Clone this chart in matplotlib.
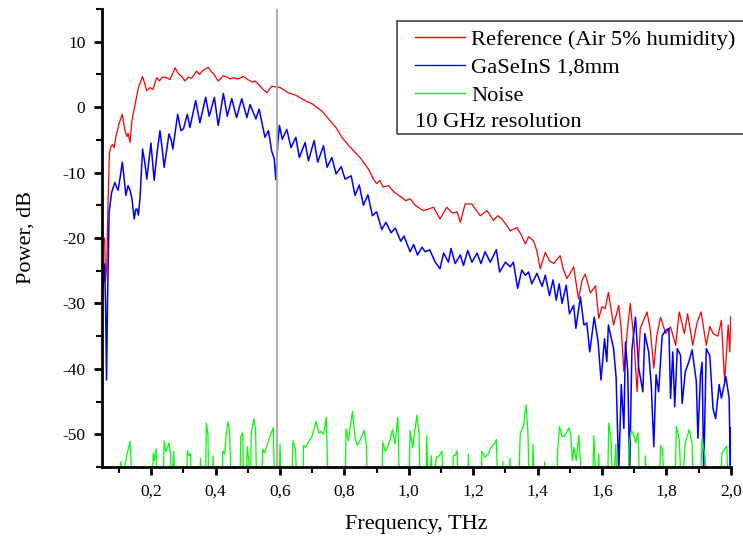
import matplotlib
matplotlib.use("Agg")
import matplotlib.pyplot as plt
from matplotlib.lines import Line2D
from matplotlib.patches import Rectangle
from matplotlib.ticker import MultipleLocator, FuncFormatter

plt.rcParams['font.family'] = ['Liberation Serif', 'DejaVu Serif']
plt.rcParams['axes.unicode_minus'] = False

# Reference (air, 5% humidity) spectrum
ref_thz = [0.050, 0.055, 0.058, 0.062, 0.066, 0.070, 0.075, 0.080, 0.085, 0.090,
           0.100, 0.110, 0.118, 0.124, 0.128, 0.134, 0.140, 0.149, 0.160, 0.173,
           0.180, 0.186, 0.196, 0.205, 0.217, 0.225, 0.235, 0.248, 0.258, 0.265,
           0.274, 0.283, 0.292, 0.305, 0.315, 0.325, 0.341, 0.350, 0.360, 0.377,
           0.385, 0.395, 0.408, 0.424, 0.435, 0.445, 0.455, 0.470, 0.486, 0.500,
           0.515, 0.522, 0.533, 0.545, 0.559, 0.574, 0.600, 0.626, 0.650, 0.678,
           0.700, 0.730, 0.756, 0.775, 0.792, 0.812, 0.833, 0.850, 0.875, 0.890,
           0.900, 0.910, 0.920, 0.937, 0.955, 0.978, 0.990, 1.004, 1.020, 1.045,
           1.060, 1.077, 1.097, 1.118, 1.135, 1.150, 1.160, 1.175, 1.196, 1.210,
           1.222, 1.243, 1.263, 1.276, 1.289, 1.303, 1.315, 1.336, 1.350, 1.362,
           1.372, 1.387, 1.398, 1.408, 1.424, 1.437, 1.450, 1.470, 1.480, 1.491,
           1.500, 1.512, 1.527, 1.538, 1.548, 1.564, 1.580, 1.590, 1.600, 1.610,
           1.620, 1.636, 1.652, 1.660, 1.668, 1.678, 1.688, 1.699, 1.709, 1.719,
           1.730, 1.740, 1.750, 1.761, 1.770, 1.782, 1.798, 1.813, 1.829, 1.840,
           1.856, 1.866, 1.882, 1.895, 1.908, 1.924, 1.935, 1.945, 1.960, 1.971,
           1.981, 1.992, 1.997, 2.000]
ref_db = [-21.0, -20.0, -26.5, -24.0, -14.0, -7.0, -6.0, -5.7, -6.2, -4.5,
          -2.5, -1.1, -3.5, -4.5, -4.0, -5.4, -2.0, 0.2, 3.0, 4.7,
          3.5, 2.5, 3.0, 2.7, 4.5, 4.0, 4.6, 4.5, 4.2, 5.0,
          6.0, 5.2, 4.8, 4.0, 4.6, 4.4, 5.5, 5.0, 5.6, 6.1,
          5.5, 5.0, 4.0, 4.8, 4.6, 4.3, 4.5, 4.3, 4.7, 4.2,
          3.8, 4.0, 3.5, 2.8, 2.2, 3.2, 3.0, 2.2, 1.8, 1.0,
          0.5, -0.6, -2.1, -3.2, -4.6, -5.8, -6.9, -7.8, -9.5, -11.0,
          -11.7, -11.2, -12.2, -12.0, -13.0, -13.8, -14.3, -14.0, -15.0, -15.8,
          -15.6, -15.3, -17.1, -15.3, -16.2, -16.0, -17.6, -14.8, -14.8, -15.8,
          -16.6, -15.8, -17.3, -16.6, -17.1, -18.0, -18.9, -18.4, -19.6, -20.9,
          -19.8, -20.4, -22.0, -24.7, -22.2, -23.5, -23.9, -22.7, -24.8, -26.2,
          -25.5, -24.4, -29.3, -26.5, -25.5, -28.4, -27.3, -32.3, -30.5, -30.8,
          -28.3, -33.3, -30.3, -34.0, -40.4, -34.5, -30.0, -35.4, -43.5, -33.8,
          -32.5, -31.3, -34.0, -39.9, -35.0, -32.1, -34.6, -33.6, -36.4, -31.3,
          -34.6, -31.6, -36.4, -33.0, -31.3, -36.4, -33.5, -34.6, -35.0, -32.6,
          -42.0, -33.3, -37.4, -32.0]

# GaSeInS 1,8 mm sample spectrum
smp_thz = [0.050, 0.055, 0.058, 0.061, 0.064, 0.066, 0.069, 0.077, 0.087, 0.092,
           0.097, 0.104, 0.110, 0.116, 0.121, 0.128, 0.134, 0.140, 0.147, 0.152,
           0.156, 0.160, 0.165, 0.173, 0.180, 0.186, 0.199, 0.209, 0.218, 0.227,
           0.233, 0.240, 0.255, 0.262, 0.267, 0.282, 0.292, 0.300, 0.312, 0.320,
           0.338, 0.351, 0.369, 0.380, 0.396, 0.408, 0.424, 0.436, 0.450, 0.465,
           0.481, 0.497, 0.507, 0.525, 0.535, 0.553, 0.564, 0.574, 0.582, 0.587,
           0.593, 0.598, 0.607, 0.621, 0.634, 0.649, 0.660, 0.678, 0.688, 0.706,
           0.717, 0.735, 0.746, 0.761, 0.774, 0.790, 0.802, 0.821, 0.833, 0.846,
           0.859, 0.873, 0.887, 0.900, 0.916, 0.929, 0.945, 0.958, 0.975, 0.985,
           1.004, 1.015, 1.027, 1.041, 1.051, 1.065, 1.082, 1.097, 1.108, 1.123,
           1.131, 1.144, 1.160, 1.170, 1.183, 1.196, 1.212, 1.224, 1.237, 1.253,
           1.272, 1.282, 1.300, 1.315, 1.325, 1.338, 1.351, 1.362, 1.372, 1.382,
           1.398, 1.414, 1.424, 1.437, 1.448, 1.458, 1.467, 1.476, 1.489, 1.499,
           1.512, 1.519, 1.533, 1.544, 1.553, 1.562, 1.576, 1.588, 1.597, 1.608,
           1.615, 1.620, 1.636, 1.644, 1.652, 1.660, 1.668, 1.673, 1.680, 1.686,
           1.693, 1.704, 1.714, 1.727, 1.733, 1.745, 1.753, 1.761, 1.768, 1.776,
           1.787, 1.797, 1.808, 1.813, 1.820, 1.826, 1.834, 1.844, 1.849, 1.859,
           1.870, 1.880, 1.893, 1.898, 1.906, 1.911, 1.916, 1.924, 1.935, 1.945,
           1.953, 1.964, 1.971, 1.985, 1.995, 1.999, 2.000]
smp_db = [-27.7, -24.0, -30.0, -41.7, -30.0, -24.2, -16.1, -13.0, -11.5, -12.2,
          -12.7, -10.5, -8.4, -11.0, -13.5, -12.0, -12.7, -14.0, -17.1, -15.6,
          -15.6, -16.5, -14.0, -6.4, -8.5, -11.0, -5.5, -11.2, -7.0, -3.6,
          -6.0, -9.2, -4.1, -5.0, -6.4, -1.1, -3.6, -3.3, -1.1, -3.1,
          1.0, -2.4, 1.5, -1.4, 1.5, -2.8, 2.1, -1.4, 1.3, -1.6,
          1.3, -1.6, 0.4, -1.8, -0.3, -4.6, -3.6, -6.7, -7.9, -11.1,
          -5.6, -2.8, -4.9, -3.4, -6.2, -4.6, -7.7, -5.4, -8.2, -5.1,
          -8.4, -5.9, -9.2, -7.7, -10.2, -9.1, -11.0, -10.5, -13.5, -11.9,
          -15.0, -13.4, -16.6, -16.0, -18.7, -17.6, -19.2, -18.5, -20.5, -19.7,
          -22.1, -21.0, -22.6, -21.4, -22.1, -21.8, -23.7, -24.7, -22.3, -23.7,
          -21.6, -23.9, -22.6, -24.2, -21.9, -23.7, -22.3, -23.9, -22.1, -23.7,
          -21.8, -25.2, -23.7, -24.4, -23.7, -27.7, -24.9, -25.7, -25.2, -27.0,
          -25.4, -27.4, -25.7, -28.8, -26.4, -29.5, -27.0, -30.0, -27.2, -31.6,
          -30.3, -33.8, -29.0, -33.3, -33.0, -37.4, -32.1, -35.9, -41.7, -35.4,
          -38.9, -33.3, -36.9, -41.4, -56.0, -42.4, -49.1, -35.9, -40.4, -56.0,
          -37.1, -32.1, -39.8, -43.5, -34.6, -37.4, -42.4, -51.9, -40.9, -43.5,
          -34.9, -34.2, -33.8, -44.5, -37.4, -45.8, -36.9, -37.9, -45.3, -40.4,
          -38.9, -37.1, -41.9, -50.6, -40.9, -39.0, -56.0, -36.9, -38.0, -46.1,
          -47.6, -42.4, -44.5, -41.2, -44.5, -56.0, -49.0]

# Noise floor (drops below the bottom of the axis between the spikes)
noise_thz = [0.050, 0.103, 0.105, 0.110, 0.118, 0.124, 0.130, 0.134, 0.138, 0.141,
             0.203, 0.206, 0.210, 0.215, 0.218,
             0.236, 0.240, 0.245, 0.250, 0.255, 0.260, 0.263, 0.267, 0.270, 0.273,
             0.308, 0.312, 0.317, 0.322, 0.326, 0.350, 0.353, 0.357,
             0.368, 0.371, 0.376, 0.379, 0.389, 0.392, 0.395,
             0.419, 0.422, 0.428, 0.433, 0.438, 0.443, 0.446, 0.450,
             0.475, 0.478, 0.484, 0.488, 0.494, 0.498, 0.503, 0.508, 0.510, 0.512,
             0.519, 0.524, 0.528,
             0.540, 0.546, 0.552, 0.558, 0.564, 0.571, 0.579, 0.584, 0.596, 0.600, 0.604,
             0.635, 0.640, 0.648, 0.654, 0.670, 0.673, 0.680, 0.690, 0.699, 0.712,
             0.720, 0.727, 0.735, 0.744, 0.750,
             0.802, 0.805, 0.812, 0.825, 0.833, 0.840, 0.848, 0.861, 0.868, 0.872,
             0.916, 0.919, 0.927, 0.934, 0.942, 0.949, 0.957, 0.966, 0.972,
             1.000, 1.004, 1.012, 1.025, 1.032, 1.036,
             1.052, 1.056, 1.060, 1.070, 1.075, 1.085, 1.095, 1.103, 1.108,
             1.135, 1.138, 1.145, 1.150, 1.155, 1.183, 1.185, 1.188,
             1.225, 1.227, 1.236, 1.247, 1.255, 1.263, 1.272, 1.277,
             1.290, 1.292, 1.296, 1.312, 1.314, 1.318,
             1.340, 1.346, 1.357, 1.364, 1.370, 1.375, 1.383, 1.386, 1.390,
             1.420, 1.422, 1.426,
             1.460, 1.462, 1.468, 1.476, 1.484, 1.492, 1.498, 1.503, 1.508, 1.513,
             1.520, 1.528, 1.533, 1.538,
             1.570, 1.575, 1.583, 1.590, 1.594,
             1.617, 1.621, 1.628, 1.635, 1.643, 1.648,
             1.680, 1.685, 1.691, 1.698, 1.705, 1.712, 1.718,
             1.733, 1.735, 1.740,
             1.778, 1.782, 1.788, 1.795,
             1.826, 1.831, 1.840, 1.848, 1.858, 1.871, 1.880, 1.885,
             1.905, 1.911, 1.920, 1.925,
             1.966, 1.973, 1.988, 1.992, 2.000]
noise_db = [-60, -60, -54.2, -56.0, -55.0, -53.2, -52.0, -51.1, -55.0, -60,
            -60, -52.9, -54.0, -52.2, -60,
            -60, -51.0, -52.6, -52.2, -51.3, -53.0, -60, -55.0, -52.6, -60,
            -60, -52.5, -53.3, -53.0, -60, -60, -53.7, -60,
            -60, -48.3, -50.0, -60, -60, -53.3, -60,
            -60, -52.5, -53.0, -50.0, -48.1, -49.4, -54.0, -60,
            -60, -50.3, -49.8, -60, -60, -51.9, -54.0, -60, -51.0, -49.4,
            -47.6, -49.4, -60,
            -60, -52.3, -52.8, -52.0, -51.1, -50.0, -49.0, -60, -60, -51.5, -60,
            -60, -51.0, -52.2, -60, -60, -51.7, -52.0, -51.0, -50.4, -48.0,
            -49.8, -49.6, -50.0, -47.4, -60,
            -60, -49.2, -51.0, -46.5, -50.5, -51.7, -51.0, -49.4, -51.5, -60,
            -60, -51.2, -52.6, -52.0, -50.8, -49.3, -51.5, -47.4, -60,
            -60, -49.4, -52.0, -47.1, -50.0, -60,
            -60, -50.2, -60, -53.3, -60, -53.6, -53.3, -52.6, -60,
            -60, -53.3, -53.2, -52.5, -60, -60, -53.0, -60,
            -60, -52.6, -53.5, -53.0, -52.0, -51.7, -50.8, -60,
            -60, -54.2, -60, -60, -53.7, -60,
            -60, -50.0, -48.6, -45.5, -49.6, -60, -60, -51.5, -60,
            -60, -54.2, -60,
            -60, -53.0, -48.8, -50.3, -50.3, -49.5, -49.0, -50.0, -54.0, -52.0,
            -54.0, -50.2, -54.0, -60,
            -60, -50.2, -60, -53.0, -60,
            -60, -48.3, -50.5, -60, -51.5, -60,
            -60, -51.3, -49.4, -50.0, -51.3, -49.8, -60,
            -60, -53.3, -60,
            -60, -51.7, -52.3, -60,
            -60, -48.8, -50.8, -60, -51.5, -49.3, -51.5, -60,
            -60, -50.6, -53.4, -60,
            -60, -52.8, -51.8, -60, -60]

marker_thz = 0.59

fig = plt.figure(figsize=(7.43, 5.42), dpi=100)
ax = fig.add_axes([0.1373, 0.1384, 0.8462, 0.8450])

ax.plot(ref_thz, ref_db, color='#ff0000', lw=0.9, label='Reference (Air 5% humidity)')
ax.plot(smp_thz, smp_db, color='#0000ff', lw=1.1, label='GaSeInS 1,8mm')
ax.plot(noise_thz, noise_db, color='#00ff00', lw=0.9, label='Noise')
ax.axvline(marker_thz, color='#a8a8a8', lw=1.3)

ax.set_xlim(0.047, 2.0)
ax.set_ylim(-55, 15)
ax.xaxis.set_major_locator(MultipleLocator(0.2))
ax.xaxis.set_minor_locator(MultipleLocator(0.1))
ax.yaxis.set_major_locator(MultipleLocator(10))
ax.yaxis.set_minor_locator(MultipleLocator(5))
ax.xaxis.set_major_formatter(FuncFormatter(lambda v, p: ('%.1f' % v).replace('.', ',')))
ax.yaxis.set_major_formatter(FuncFormatter(lambda v, p: '%d' % round(v)))

for side in ['top', 'right']:
    ax.spines[side].set_visible(False)
for side in ['left', 'bottom']:
    ax.spines[side].set_linewidth(2)
ax.tick_params(which='major', direction='out', length=6, width=2, labelsize=12.5, pad=6)
ax.tick_params(which='minor', direction='out', length=4, width=1.5)

ax.set_xlabel('Frequency, THz', fontsize=16, labelpad=11)
ax.set_ylabel('Power, dB', fontsize=16, labelpad=19)

# legend box, partly running off the right edge like the original
fig.patches.append(Rectangle((397 / 743, 1 - 134 / 542), 0.6, 113 / 542,
                             transform=fig.transFigure, fill=False,
                             edgecolor='#444444', lw=1.2))
handles = [Line2D([], [], color=c, lw=1) for c in ['#ff0000', '#0000ff', '#00ff00']]
labels = ['Reference (Air 5% humidity)', 'GaSeInS 1,8mm', 'Noise']
fig.legend(handles, labels, loc='upper left', bbox_to_anchor=(410.5 / 743, 1 - 24.5 / 542),
           frameon=False, fontsize=16.2, handlelength=2.2, handletextpad=0.3,
           labelspacing=0.33, borderpad=0.2, borderaxespad=0)
fig.text(415 / 743, 1 - 122 / 542, '10 GHz resolution', fontsize=16.2, va='center', ha='left')

plt.savefig('out.png', dpi=100)
